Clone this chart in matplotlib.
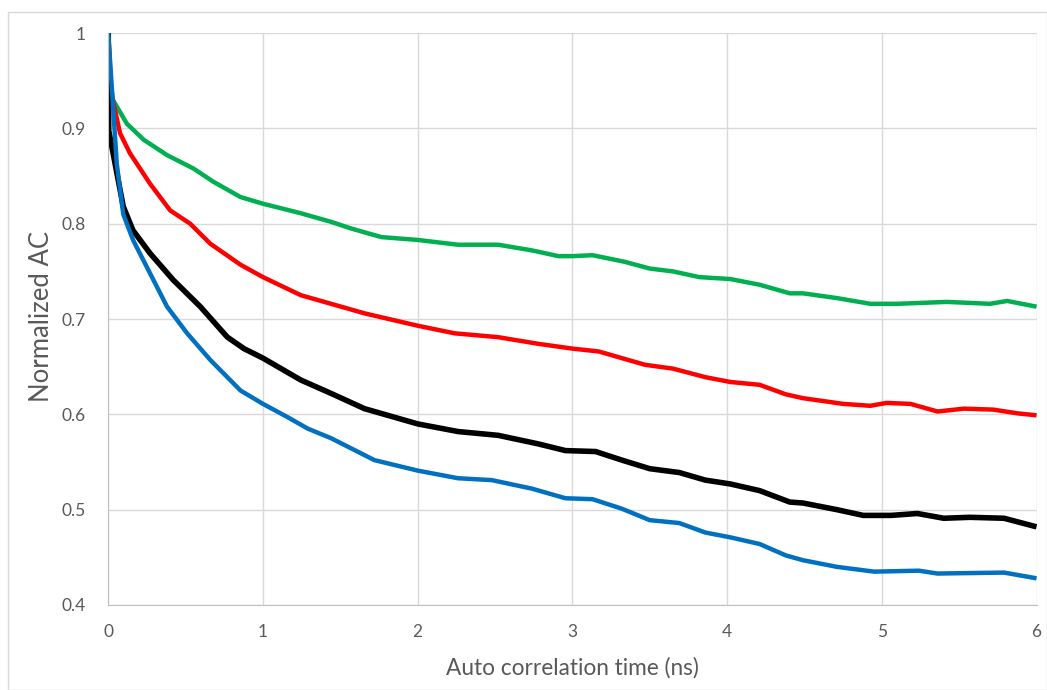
import matplotlib.pyplot as plt
from matplotlib.patches import Rectangle

# Values (time in ns, normalized AC)
green_t = [0.0, 0.01, 0.03, 0.12, 0.23, 0.38, 0.55, 0.68, 0.855, 1.0, 1.245, 1.44, 1.57,
           1.765, 2.0, 2.26, 2.52, 2.74, 2.91, 3.0, 3.13, 3.34, 3.5, 3.65, 3.82, 4.02,
           4.21, 4.405, 4.49, 4.71, 4.925, 5.1, 5.42, 5.7, 5.81, 6.0]
green_ac = [1.0, 0.955, 0.93, 0.905, 0.888, 0.872, 0.858, 0.844, 0.828, 0.821, 0.811, 0.802, 0.795,
            0.786, 0.783, 0.778, 0.778, 0.772, 0.766, 0.766, 0.767, 0.76, 0.753, 0.75, 0.744, 0.742,
            0.736, 0.727, 0.727, 0.722, 0.716, 0.716, 0.718, 0.716, 0.719, 0.713]

red_t = [0.0, 0.02, 0.076, 0.14, 0.27, 0.40, 0.53, 0.66, 0.855, 1.0, 1.245, 1.44, 1.656,
         2.0, 2.24, 2.52, 2.78, 3.0, 3.17, 3.32, 3.47, 3.65, 3.86, 4.02, 4.21, 4.38,
         4.49, 4.75, 4.925, 5.03, 5.185, 5.36, 5.53, 5.72, 5.88, 6.0]
red_ac = [1.0, 0.937, 0.895, 0.874, 0.842, 0.814, 0.80, 0.779, 0.757, 0.744, 0.725, 0.716, 0.706,
          0.693, 0.685, 0.681, 0.674, 0.669, 0.666, 0.659, 0.652, 0.648, 0.639, 0.634, 0.631, 0.621,
          0.617, 0.611, 0.609, 0.612, 0.611, 0.603, 0.606, 0.605, 0.601, 0.599]

black_t = [0.0, 0.003, 0.097, 0.16, 0.27, 0.42, 0.595, 0.77, 0.877, 1.0, 1.245, 1.44, 1.656,
           2.0, 2.26, 2.52, 2.78, 2.955, 3.15, 3.32, 3.5, 3.69, 3.86, 4.02, 4.21, 4.405,
           4.49, 4.71, 4.88, 5.06, 5.23, 5.4, 5.57, 5.79, 6.0]
black_ac = [1.0, 0.898, 0.818, 0.793, 0.769, 0.741, 0.713, 0.681, 0.669, 0.659, 0.636, 0.622, 0.606,
            0.590, 0.582, 0.578, 0.569, 0.562, 0.561, 0.552, 0.543, 0.539, 0.531, 0.527, 0.520, 0.508,
            0.507, 0.50, 0.494, 0.494, 0.496, 0.491, 0.492, 0.491, 0.482]

blue_t = [0.0, 0.055, 0.097, 0.16, 0.27, 0.38, 0.51, 0.66, 0.855, 1.0, 1.16, 1.29, 1.44,
          1.72, 2.0, 2.26, 2.48, 2.74, 2.955, 3.13, 3.32, 3.5, 3.69, 3.86, 4.02, 4.21,
          4.38, 4.49, 4.71, 4.95, 5.24, 5.36, 5.79, 6.0]
blue_ac = [1.0, 0.863, 0.81, 0.783, 0.748, 0.713, 0.685, 0.657, 0.625, 0.611, 0.597, 0.585, 0.575,
           0.552, 0.541, 0.533, 0.531, 0.522, 0.512, 0.511, 0.501, 0.489, 0.486, 0.476, 0.471, 0.464,
           0.452, 0.447, 0.44, 0.435, 0.436, 0.433, 0.434, 0.428]

plt.rcParams['font.family'] = ['Lato', 'DejaVu Sans']
text_color = '#595959'

fig = plt.figure(figsize=(10.47, 6.9), dpi=100)
fig.patches.append(Rectangle((8 / 1047, 0), 1 - 8 / 1047, 1 - 12 / 690, transform=fig.transFigure,
                             fill=False, edgecolor='#D9D9D9', linewidth=1))
axes = fig.add_axes([0.1034, 0.1232, 0.8866, 0.8288])

axes.plot(green_t, green_ac, color='#00B050', linewidth=3.2, solid_capstyle='butt')
axes.plot(red_t, red_ac, color='#FF0000', linewidth=3.2, solid_capstyle='butt')
axes.plot(black_t, black_ac, color='#000000', linewidth=4.0, solid_capstyle='butt')
axes.plot(blue_t, blue_ac, color='#0070C0', linewidth=3.2, solid_capstyle='butt')

axes.set_xlim(0, 6)
axes.set_ylim(0.4, 1.0)
axes.set_xticks([0, 1, 2, 3, 4, 5, 6])
axes.set_yticks([0.4, 0.5, 0.6, 0.7, 0.8, 0.9, 1.0])
axes.set_yticklabels(['0.4', '0.5', '0.6', '0.7', '0.8', '0.9', '1'])
axes.grid(color='#D9D9D9', linewidth=1)
axes.set_axisbelow(True)
axes.tick_params(length=0, labelsize=12.5, labelcolor=text_color)
axes.tick_params(axis='y', pad=16)
axes.tick_params(axis='x', pad=14)
for side in ['top', 'right']:
    axes.spines[side].set_visible(False)
for side in ['left', 'bottom']:
    axes.spines[side].set_color('#BFBFBF')

axes.set_xlabel("Auto correlation time (ns)", fontsize=16.3, color=text_color, va='center')
axes.xaxis.set_label_coords(0.5, -0.110)
axes.set_ylabel("Normalized AC", fontsize=18.5, color=text_color, va='center')
axes.yaxis.set_label_coords(-0.0714, 0.504)

plt.savefig("out.png", dpi=100)
